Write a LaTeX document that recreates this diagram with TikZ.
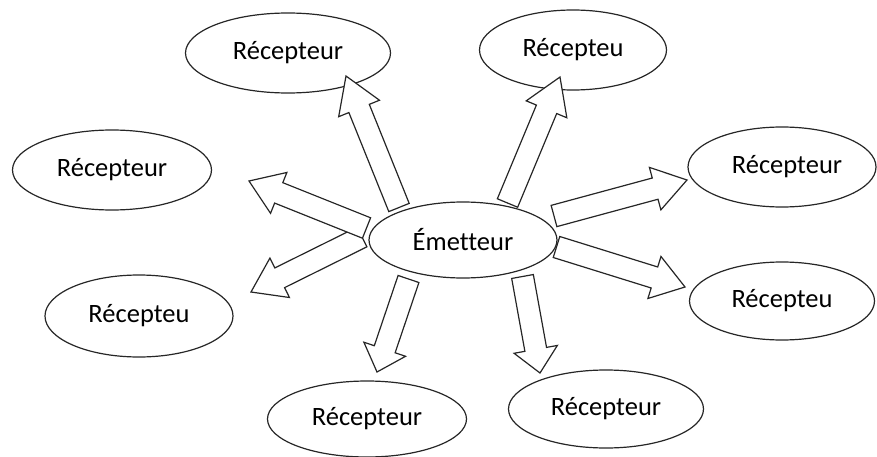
\documentclass[tikz,border=0pt]{standalone}
\usepackage{fontspec}
\setmainfont[Ligatures=NoCommon]{Carlito}
\usetikzlibrary{shapes.geometric,calc}
\newcommand\upt[1]{\raisebox{2pt}{#1}}
\tikzset{
  rec/.style={ellipse, draw=black!85, line width=1.2pt, fill=white, inner sep=0pt,
              font=\fontsize{26.5}{30}\selectfont},
  barrow/.style={draw=black!85, line width=1.2pt, fill=white, line join=miter},
}
\newcommand\blockarrow[3][33]{%
  \draw[barrow] let \p1=(#2), \p2=(#3),
      \n1={atan2(\y2-\y1,\x2-\x1)},
      \n2={veclen(\x2-\x1,\y2-\y1)-#1} in
    ($(\p1)+({\n1+90}:11pt)$)
    -- ($(\p1)+({\n1}:{\n2})+({\n1+90}:11pt)$)
    -- ($(\p1)+({\n1}:{\n2})+({\n1+90}:22pt)$)
    -- (\p2)
    -- ($(\p1)+({\n1}:{\n2})+({\n1-90}:22pt)$)
    -- ($(\p1)+({\n1}:{\n2})+({\n1-90}:11pt)$)
    -- ($(\p1)+({\n1-90}:11pt)$) -- cycle;}
\begin{document}
\begin{tikzpicture}[x=1pt,y=-1pt]
\useasboundingbox (0,0) rectangle (877,457);
% receivers
\node[rec, minimum width=205pt, minimum height=80pt] (r1) at (288,53) {\upt{Récepteur}};
\node[rec, minimum width=187pt, minimum height=80pt] (r2) at (573,50) {\upt{Récepteu}};
\node[rec, minimum width=199pt, minimum height=80pt] (r3) at (112,170) {\upt{Récepteur}};
\node[rec, minimum width=188pt, minimum height=82pt] (r4) at (139,316) {\upt{Récepteu}};
\node[rec, minimum width=199pt, minimum height=76pt] (r5) at (367,419) {\upt{Récepteur}};
\node[rec, minimum width=195pt, minimum height=78pt] (r6) at (606,409) {\upt{Récepteur}};
\node[rec, minimum width=188pt, minimum height=80pt] (r7) at (782,167) {\hspace*{10pt}\upt{Récepteur}};
\node[rec, minimum width=185pt, minimum height=78pt] (r8) at (782,301) {\upt{Récepteu}};
% arrow end points
\coordinate (b1) at (399,207.5);   \coordinate (t1) at (346,76);
\coordinate (b2) at (507.5,203);   \coordinate (t2) at (560,77);
\coordinate (b3) at (366.5,228);   \coordinate (t3) at (249,181);
\coordinate (b4) at (362,237);     \coordinate (t4) at (251,292);
\coordinate (b5) at (408.5,279);   \coordinate (t5) at (377,372);
\coordinate (b6) at (522.5,276.5); \coordinate (t6) at (540,373);
\coordinate (b7) at (554,216);     \coordinate (t7) at (687,180);
\coordinate (b8) at (556.5,247);   \coordinate (t8) at (685,287);
% block arrows
\blockarrow[32]{b4}{t4}
\blockarrow[32]{b3}{t3}
\blockarrow[35]{b1}{t1}
\blockarrow[35]{b2}{t2}
\blockarrow[24]{b5}{t5}
\blockarrow[24]{b6}{t6}
\blockarrow[33]{b7}{t7}
\blockarrow[32]{b8}{t8}
% emitter
\node[rec, minimum width=188pt, minimum height=76pt] (E) at (463,240) {\upt{Émetteur}};
\end{tikzpicture}
\end{document}
